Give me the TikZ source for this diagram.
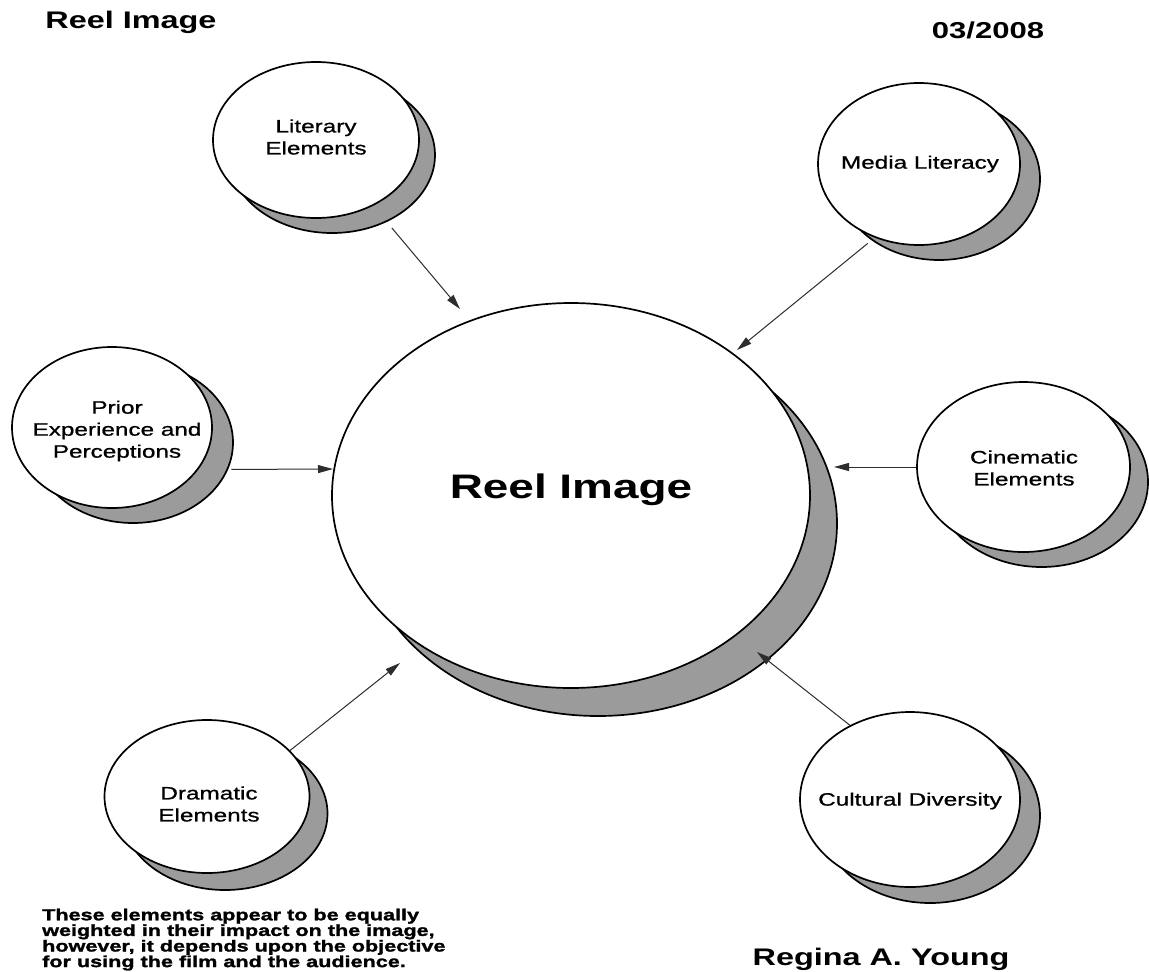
\documentclass[tikz,border=0pt]{standalone}
\usepackage{fontspec}
\setmainfont{Liberation Sans}[FakeStretch=1.35]
\newfontfamily\lblfont{Liberation Sans}[FakeStretch=1.35, FakeBold=0.9]
\newfontfamily\notefont{Liberation Sans}[FakeStretch=1.35, BoldFeatures={FakeBold=1.6}]
\usetikzlibrary{shapes.geometric,arrows.meta,shadows}
\definecolor{shgray}{RGB}{155,155,155}
\definecolor{arrgray}{RGB}{45,45,45}
\newcommand{\fsz}[2]{\fontsize{#1}{#2}\selectfont}
\begin{document}
\begin{tikzpicture}[x=1pt,y=-1pt,
  bub/.style={ellipse, draw=black, line width=1.7pt, fill=white, inner sep=0pt},
  sh/.style 2 args={general shadow={shadow xshift=#1pt, shadow yshift=-#2pt, fill=shgray, draw=black, line width=1.7pt}},
  lbl/.style={align=center, inner sep=0pt, font=\lblfont\fsz{18}{22}},
  arr/.style={draw=arrgray, line width=1pt, -{Triangle[length=15pt,width=8pt]}},
  ttl/.style={inner sep=0pt, anchor=base, font=\bfseries\fsz{24}{28}}
]
\fill[white] (0,0) rectangle (1149,972);
\useasboundingbox (0,0) rectangle (1149,972);

% central circle
\node[bub, sh={27}{28}, minimum width=478pt, minimum height=385pt] (main) at (571,495.5) {};
\node[inner sep=0pt, anchor=base, font=\bfseries\fsz{34}{40}] (mainT) at (571,498) {Reel Image};

% satellites
\node[bub, sh={16}{15}, minimum width=206pt, minimum height=156pt] (lit) at (316,140) {};
\node[lbl] (litT) at (316,137) {Literary\\Elements};

\node[bub, sh={20}{15}, minimum width=202pt, minimum height=162pt] (med) at (919,164) {};
\node[lbl] (medT) at (920,164) {Media Literacy};

\node[bub, sh={21}{15}, minimum width=200pt, minimum height=161pt] (pri) at (112,427.5) {};
\node[lbl] (priT) at (117,431) {Prior\\Experience and\\Perceptions};

\node[bub, sh={18}{15}, minimum width=213pt, minimum height=170pt] (cin) at (1023.5,467) {};
\node[lbl] (cinT) at (1024,468) {Cinematic\\Elements};

\node[bub, sh={18}{17}, minimum width=205pt, minimum height=153pt] (dra) at (207,796.5) {};
\node[lbl] (draT) at (209,804) {Dramatic\\Elements};

\node[bub, sh={20}{16}, minimum width=220pt, minimum height=175pt] (cul) at (910,799.5) {};
\node[lbl] (culT) at (910,801) {Cultural Diversity};

% arrow tips
\coordinate (tipL) at (460,309);
\coordinate (tipM) at (737,350);
\coordinate (tipP) at (333,469);
\coordinate (tipC) at (834,467);
\coordinate (tipD) at (400,663);
\coordinate (tipCu) at (757,652);

\draw[arr, shorten <=29pt] (lit.311) -- (tipL);
\draw[arr, shorten <=9pt] (med.239) -- (tipM);
\draw[arr, shorten <=33pt] (pri.334) -- (tipP);
\draw[arr] (cin.west) -- (tipC);
\draw[arr] (dra.29) -- (tipD);
\draw[arr] (cul.129) -- (tipCu);

% texts
\node[ttl] (title) at (131,28) {Reel Image};
\node[ttl, font=\bfseries\fsz{23}{28}] (date) at (988,38) {03/2008};
\node[ttl] (author) at (881,965) {Regina A. Young};
\node[anchor=north west, align=left, inner sep=0pt, font=\notefont\bfseries\fsz{16}{15.6}] (note) at (42,908.5)
  {These elements appear to be equally\\weighted in their impact on the image,\\however, it depends upon the objective\\for using the film and the audience.};
\end{tikzpicture}
\end{document}
